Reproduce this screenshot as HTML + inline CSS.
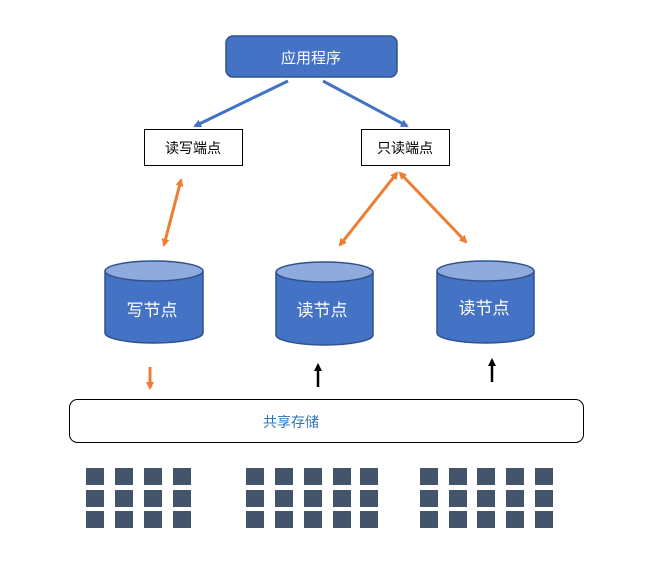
<!DOCTYPE html>
<html><head><meta charset="utf-8"><style>
body{margin:0;background:#fff;}
svg text{font-family:"Liberation Sans","Noto Sans CJK SC",sans-serif;}
</style></head><body>
<svg width="655" height="583" viewBox="0 0 655 583" xmlns="http://www.w3.org/2000/svg">
<defs>
<marker id="ab" markerWidth="8" markerHeight="8" refX="6" refY="4" orient="auto" markerUnits="userSpaceOnUse"><path d="M0,0 L8,4 L0,8 z" fill="#4472c4"/></marker>
<marker id="ao" markerWidth="8" markerHeight="8" refX="6" refY="4" orient="auto-start-reverse" markerUnits="userSpaceOnUse"><path d="M0,0 L8,4 L0,8 z" fill="#ed7d31"/></marker>
<marker id="ak" markerWidth="8" markerHeight="8" refX="6" refY="4" orient="auto" markerUnits="userSpaceOnUse"><path d="M0,0 L8,4 L0,8 z" fill="#000"/></marker>
</defs>
<rect x="226" y="36" width="171" height="41" rx="7" fill="#4472c4" stroke="#2f528f" stroke-width="1.5"/>
<text x="311" y="63" font-size="15" fill="#fff" text-anchor="middle">应用程序</text>
<line x1="288" y1="81" x2="195" y2="126" stroke="#4472c4" stroke-width="3" marker-end="url(#ab)"/>
<line x1="323" y1="81" x2="407" y2="126" stroke="#4472c4" stroke-width="3" marker-end="url(#ab)"/>
<rect x="144.5" y="129.5" width="98" height="36" fill="#fff" stroke="#000"/>
<text x="193" y="153" font-size="14" text-anchor="middle">读写端点</text>
<rect x="361.5" y="129.5" width="88" height="36" fill="#fff" stroke="#000"/>
<text x="405" y="153" font-size="14" text-anchor="middle">只读端点</text>
<line x1="181" y1="180" x2="164" y2="245" stroke="#ed7d31" stroke-width="3" marker-start="url(#ao)" marker-end="url(#ao)"/>
<line x1="397" y1="173" x2="340" y2="245" stroke="#ed7d31" stroke-width="3" marker-start="url(#ao)" marker-end="url(#ao)"/>
<line x1="400" y1="173" x2="466" y2="242" stroke="#ed7d31" stroke-width="3" marker-start="url(#ao)" marker-end="url(#ao)"/>
<g stroke="#2f528f" stroke-width="1.5">
<path d="M105,271 L105,333 A49,10 0 0 0 203,333 L203,271" fill="#4472c4"/><ellipse cx="154" cy="271" rx="49" ry="10" fill="#8faadc"/>
<path d="M276,272 L276,335 A48.5,10 0 0 0 373,335 L373,272" fill="#4472c4"/><ellipse cx="324.5" cy="272" rx="48.5" ry="10" fill="#8faadc"/>
<path d="M437,271 L437,333 A48.5,10 0 0 0 534,333 L534,271" fill="#4472c4"/><ellipse cx="485.5" cy="271" rx="48.5" ry="10" fill="#8faadc"/>
</g>
<text x="152" y="316" font-size="17" fill="#fff" text-anchor="middle">写节点</text>
<text x="322" y="316" font-size="17" fill="#fff" text-anchor="middle">读节点</text>
<text x="484" y="314" font-size="17" fill="#fff" text-anchor="middle">读节点</text>
<line x1="150" y1="367" x2="150" y2="388" stroke="#ed7d31" stroke-width="3" marker-end="url(#ao)"/>
<line x1="318" y1="387" x2="318" y2="365" stroke="#000" stroke-width="2.5" marker-end="url(#ak)"/>
<line x1="492" y1="382" x2="492" y2="360" stroke="#000" stroke-width="2.5" marker-end="url(#ak)"/>
<rect x="69.5" y="399.5" width="514" height="43" rx="8" fill="#fff" stroke="#000"/>
<text x="291" y="427" font-size="14" fill="#2e75b6" text-anchor="middle">共享存储</text>
<g fill="#44546a">
<rect x="86" y="468" width="18" height="17"/><rect x="115" y="468" width="18" height="17"/><rect x="144" y="468" width="18" height="17"/><rect x="173" y="468" width="18" height="17"/>
<rect x="86" y="490" width="18" height="17"/><rect x="115" y="490" width="18" height="17"/><rect x="144" y="490" width="18" height="17"/><rect x="173" y="490" width="18" height="17"/>
<rect x="86" y="511" width="18" height="17"/><rect x="115" y="511" width="18" height="17"/><rect x="144" y="511" width="18" height="17"/><rect x="173" y="511" width="18" height="17"/>
<rect x="246" y="468" width="18" height="17"/><rect x="275" y="468" width="18" height="17"/><rect x="304" y="468" width="18" height="17"/><rect x="333" y="468" width="18" height="17"/><rect x="360" y="468" width="18" height="17"/>
<rect x="246" y="490" width="18" height="17"/><rect x="275" y="490" width="18" height="17"/><rect x="304" y="490" width="18" height="17"/><rect x="333" y="490" width="18" height="17"/><rect x="360" y="490" width="18" height="17"/>
<rect x="246" y="511" width="18" height="17"/><rect x="275" y="511" width="18" height="17"/><rect x="304" y="511" width="18" height="17"/><rect x="333" y="511" width="18" height="17"/><rect x="360" y="511" width="18" height="17"/>
<rect x="420" y="468" width="18" height="17"/><rect x="449" y="468" width="18" height="17"/><rect x="477" y="468" width="18" height="17"/><rect x="506" y="468" width="18" height="17"/><rect x="535" y="468" width="18" height="17"/>
<rect x="420" y="490" width="18" height="17"/><rect x="449" y="490" width="18" height="17"/><rect x="477" y="490" width="18" height="17"/><rect x="506" y="490" width="18" height="17"/><rect x="535" y="490" width="18" height="17"/>
<rect x="420" y="511" width="18" height="17"/><rect x="449" y="511" width="18" height="17"/><rect x="477" y="511" width="18" height="17"/><rect x="506" y="511" width="18" height="17"/><rect x="535" y="511" width="18" height="17"/>
</g>
</svg>
</body></html>
